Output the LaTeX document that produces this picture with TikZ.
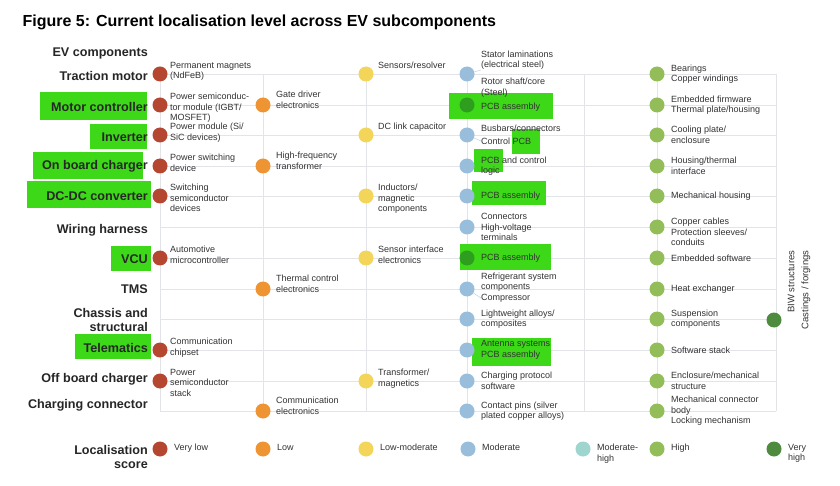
\documentclass[tikz,border=0pt]{standalone}
\usepackage{fontspec}
\setmainfont{Liberation Sans}
\usetikzlibrary{positioning}
\definecolor{vlow}{HTML}{B5462F}
\definecolor{low}{HTML}{EE9432}
\definecolor{lowmod}{HTML}{F3D659}
\definecolor{moder}{HTML}{99BEDC}
\definecolor{modhigh}{HTML}{9ED5CF}
\definecolor{high}{HTML}{93BD58}
\definecolor{vhigh}{HTML}{4E8B3E}
\definecolor{marker}{HTML}{3DD817}
\definecolor{marked}{HTML}{2E9E1F}
\definecolor{gridc}{HTML}{E2E4E8}
\begin{document}
\begin{tikzpicture}[x=1pt,y=-1pt]
    \tikzset{dot/.style={circle, fill=#1, minimum size=15pt, inner sep=0pt},
      item/.style={anchor=west, align=left, inner sep=0pt, font=\fontsize{9}{10.6}\selectfont, text=black!80},
      comp/.style={anchor=east, align=right, inner sep=0pt, font=\fontsize{12.6}{14.5}\selectfont\bfseries, text=black!85},
      hl/.style={fill=marker},
      lead/.style={draw=moder!80, thin}}
    \useasboundingbox[fill=white] (0,0) rectangle (840,486);
    \node[anchor=west, font=\fontsize{16}{18}\selectfont\bfseries] (title) at (19,22) {Figure 5: Current localisation level across EV subcomponents};
    % grid
    \foreach \y in {74,105,135,166,196,227,258,289,319,350,381,411}
        \draw[gridc] (160,\y) -- (776,\y);
    \foreach \x in {160,263,366,467,584,657,776}
        \draw[gridc] (\x,74) -- (\x,411);
    % marker
    \fill[hl] (40,92) rectangle (147,120);
    \fill[hl] (90,124) rectangle (147,149);
    \fill[hl] (33,152) rectangle (143,179);
    \fill[hl] (27,181) rectangle (151,208);
    \fill[hl] (111,246) rectangle (151,271);
    \fill[hl] (75,334) rectangle (151,359);
    \fill[hl] (449,93) rectangle (553,119);
    \fill[hl] (512,129) rectangle (540,154);
    \fill[hl] (474,149) rectangle (503,172);
    \fill[hl] (472,181) rectangle (546,205);
    \fill[hl] (460,244) rectangle (551,270);
    \fill[hl] (472,338) rectangle (551,366);
    % components
    \node[comp] (hdr) at (148,53) {EV components};
    \node[comp] (tm) at (148,76) {Traction motor};
    \node[comp] (mc) at (148,107) {Motor controller};
    \node[comp] (inv) at (148,137) {Inverter};
    \node[comp] (obc) at (148,166) {On board charger};
    \node[comp] (dcdc) at (148,196) {DC-DC converter};
    \node[comp] (wh) at (148,230) {Wiring harness};
    \node[comp] (vcu) at (148,259) {VCU};
    \node[comp] (tms) at (148,289) {TMS};
    \node[comp] (chs) at (148,320) {Chassis and\\structural};
    \node[comp] (tel) at (148,348) {Telematics};
    \node[comp] (offc) at (148,379) {Off board charger};
    \node[comp] (cc) at (148,405) {Charging connector};
    % very low
    \foreach \y/\t in {74/{Permanent magnets\\(NdFeB)}, 105/{Power semiconduc-\\tor module (IGBT/\\MOSFET)}, 135/{Power module (Si/\\SiC devices)}, 166/{Power switching\\device}, 196/{Switching\\semiconductor\\devices}, 258/{Automotive\\microcontroller}, 350/{Communication\\chipset}, 381/{Power\\semiconductor\\stack}}
    {
        \node[dot=vlow] (r\y) at (160,\y) {};
        \node[item, anchor=north west] (rt\y) at (170,\y-12) {\t};
    }
    % low
    \foreach \y/\t in {105/{Gate driver\\electronics}, 166/{High-frequency\\transformer}, 289/{Thermal control\\electronics}, 411/{Communication\\electronics}}
    {
        \node[dot=low] (o\y) at (263,\y) {};
        \node[item] (ot\y) at (276,\y-5) {\t};
    }
    % low-moderate
    \foreach \y/\t in {74/{Sensors/resolver}, 135/{DC link capacitor}, 196/{Inductors/\\magnetic\\components}, 258/{Sensor interface\\electronics}, 381/{Transformer/\\magnetics}}
    {
        \node[dot=lowmod] (y\y) at (366,\y) {};
        \node[item, anchor=north west] (yt\y) at (378,\y-12) {\t};
    }
    % moderate
    \foreach \y/\c in {74/moder,105/marked,135/moder,166/moder,196/moder,227/moder,258/marked,289/moder,319/moder,350/moder,381/moder,411/moder}
        \node[dot=\c] (b\y) at (467,\y) {};
    \node[item, anchor=south west] (bt74a) at (481,70) {Stator laminations\\(electrical steel)};
    \node[item, anchor=north west] (bt74b) at (481,78) {Rotor shaft/core\\(Steel)};
    \draw[lead] (b74) -- (bt74a.south west);
    \node[item] (bt105) at (481,107) {PCB assembly};
    \node[item] (bt135a) at (481,128) {Busbars/connectors};
    \node[item] (bt135b) at (481,141) {Control PCB};
    \draw[lead] (b135) -- (bt135b.west);
    \node[item] (bt166) at (481,166) {PCB and control\\logic};
    \node[item] (bt196) at (481,196) {PCB assembly};
    \node[item] (bt227) at (481,227) {Connectors\\High-voltage\\terminals};
    \node[item] (bt258) at (481,258) {PCB assembly};
    \node[item, anchor=south west] (bt289a) at (481,292) {Refrigerant system\\components};
    \node[item] (bt289b) at (481,298) {Compressor};
    \draw[lead] (b289) -- (bt289b.west);
    \node[item] (bt319) at (481,319) {Lightweight alloys/\\composites};
    \node[item] (bt350) at (481,350) {Antenna systems\\PCB assembly};
    \node[item] (bt381) at (481,381) {Charging protocol\\software};
    \node[item] (bt411) at (481,411) {Contact pins (silver\\plated copper alloys)};
    % high
    \foreach \y in {74,105,135,166,196,227,258,289,319,350,381,411}
        \node[dot=high] (g\y) at (657,\y) {};
    \node[item] (gt74) at (671,74) {Bearings\\Copper windings};
    \node[item] (gt105) at (671,105) {Embedded firmware\\Thermal plate/housing};
    \node[item] (gt135) at (671,135) {Cooling plate/\\enclosure};
    \node[item] (gt166) at (671,166) {Housing/thermal\\interface};
    \node[item] (gt196) at (671,196) {Mechanical housing};
    \node[item] (gt227) at (671,232) {Copper cables\\Protection sleeves/\\conduits};
    \node[item] (gt258) at (671,258) {Embedded software};
    \node[item] (gt289) at (671,289) {Heat exchanger};
    \node[item] (gt319) at (671,319) {Suspension\\components};
    \node[item] (gt350) at (671,350) {Software stack};
    \node[item] (gt381) at (671,381) {Enclosure/mechanical\\structure};
    \node[item] (gt411) at (671,411) {Mechanical connector\\body\\Locking mechanism};
    % very high
    \node[dot=vhigh] (dg) at (774,320) {};
    \node[item, anchor=center, rotate=90, align=right, font=\fontsize{9.5}{14}\selectfont] (dgt) at (799,290) {BIW structures\\Castings / forgings};
    % legend
    \node[comp] (leg) at (148,457) {Localisation\\score};
    \foreach \x/\c/\t in {160/vlow/{Very low}, 263/low/{Low}, 366/lowmod/{Low-moderate}, 468/moder/{Moderate}, 583/modhigh/{Moderate-\\high}, 657/high/{High}, 774/vhigh/{Very\\high}}
    {
        \node[dot=\c] (l\x) at (\x,449) {};
        \node[item, anchor=north west] (lt\x) at (\x+14,444) {\t};
    }
\end{tikzpicture}
\end{document}
